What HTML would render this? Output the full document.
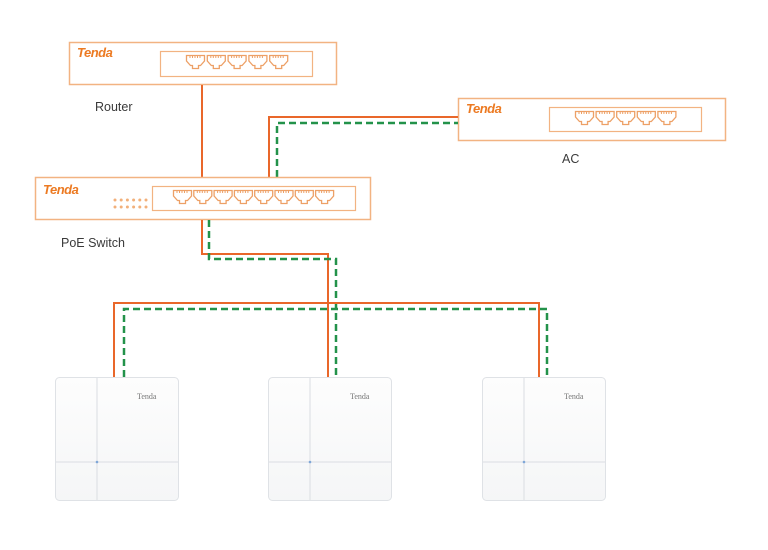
<!DOCTYPE html>
<html>
<head>
<meta charset="utf-8">
<style>
html,body{margin:0;padding:0;background:#fff;}
svg{display:block;}
.lbl{font-family:"Liberation Sans",sans-serif;font-size:12.5px;fill:#3a3a3a;}
.logo{font-family:"Liberation Sans",sans-serif;font-weight:bold;font-style:italic;font-size:13px;fill:#ec7a22;letter-spacing:-0.5px;}
.aplogo{font-family:"Liberation Serif",serif;font-size:8px;fill:#777;}
</style>
</head>
<body>
<svg width="768" height="550" viewBox="0 0 768 550" xmlns="http://www.w3.org/2000/svg">
<defs>
  <g id="port">
    <path d="M0.5,0.5 H18.5 V6 L14.5,10.5 H12.5 V13.5 H6.5 V10.5 H4.5 L0.5,6 Z" fill="none" stroke="#eda066" stroke-width="1.3"/>
    <path d="M4,1 V3 M6.5,1 V3 M9,1 V3 M11.5,1 V3 M14,1 V3" stroke="#eda066" stroke-width="1"/>
  </g>
  <linearGradient id="apg" x1="0" y1="0" x2="0" y2="1">
    <stop offset="0" stop-color="#fdfdfd"/>
    <stop offset="1" stop-color="#f5f6f7"/>
  </linearGradient>
  <g id="ap">
    <rect x="0.5" y="0.5" width="123" height="123" rx="4" fill="url(#apg)" stroke="#dfe2e6" stroke-width="1"/>
    <line x1="42" y1="1" x2="42" y2="123" stroke="#dadde2" stroke-width="1"/>
    <line x1="1" y1="85" x2="123" y2="85" stroke="#dadde2" stroke-width="1"/>
    <circle cx="42" cy="85" r="1.3" fill="#7fa7d8"/>
    <text x="82" y="22" class="aplogo">Tenda</text>
  </g>
</defs>

<!-- Router -->
<rect x="69.5" y="42.5" width="267" height="42" fill="#fff" stroke="#f2b382" stroke-width="1.5"/>
<text x="77" y="57" class="logo">Tenda</text>
<rect x="160.5" y="51.5" width="152" height="25" fill="none" stroke="#f2b382" stroke-width="1.2"/>
<use href="#port" x="186" y="55"/>
<use href="#port" x="206.8" y="55"/>
<use href="#port" x="227.6" y="55"/>
<use href="#port" x="248.4" y="55"/>
<use href="#port" x="269.2" y="55"/>
<text x="95" y="111" class="lbl">Router</text>

<!-- AC -->
<rect x="458.5" y="98.5" width="267" height="42" fill="#fff" stroke="#f2b382" stroke-width="1.5"/>
<text x="466" y="113" class="logo">Tenda</text>
<rect x="549.5" y="107.5" width="152" height="24" fill="none" stroke="#f2b382" stroke-width="1.2"/>
<use href="#port" x="575" y="111"/>
<use href="#port" x="595.6" y="111"/>
<use href="#port" x="616.2" y="111"/>
<use href="#port" x="636.8" y="111"/>
<use href="#port" x="657.4" y="111"/>
<text x="562" y="163" class="lbl">AC</text>

<!-- Connections router/AC to switch -->
<line x1="202" y1="85" x2="202" y2="177" stroke="#e9672a" stroke-width="2"/>
<polyline points="269,177 269,117 458,117" fill="none" stroke="#e9672a" stroke-width="2"/>
<polyline points="277,177 277,123 458,123" fill="none" stroke="#23924a" stroke-width="2.5" stroke-dasharray="7,4"/>

<!-- PoE Switch -->
<rect x="35.5" y="177.5" width="335" height="42" fill="#fff" stroke="#f2b382" stroke-width="1.5"/>
<text x="43" y="194" class="logo">Tenda</text>
<g fill="#f2b07a">
  <circle cx="115" cy="200" r="1.5"/><circle cx="121.2" cy="200" r="1.5"/><circle cx="127.4" cy="200" r="1.5"/><circle cx="133.6" cy="200" r="1.5"/><circle cx="139.8" cy="200" r="1.5"/><circle cx="146" cy="200" r="1.5"/>
  <circle cx="115" cy="207" r="1.5"/><circle cx="121.2" cy="207" r="1.5"/><circle cx="127.4" cy="207" r="1.5"/><circle cx="133.6" cy="207" r="1.5"/><circle cx="139.8" cy="207" r="1.5"/><circle cx="146" cy="207" r="1.5"/>
</g>
<rect x="152.5" y="186.5" width="203" height="24" fill="none" stroke="#f2b382" stroke-width="1.2"/>
<use href="#port" x="173" y="190"/>
<use href="#port" x="193.3" y="190"/>
<use href="#port" x="213.6" y="190"/>
<use href="#port" x="233.9" y="190"/>
<use href="#port" x="254.2" y="190"/>
<use href="#port" x="274.5" y="190"/>
<use href="#port" x="294.8" y="190"/>
<use href="#port" x="315.1" y="190"/>
<text x="61" y="247" class="lbl">PoE Switch</text>

<!-- Connections switch to APs -->
<polyline points="202,220 202,254 328,254 328,377" fill="none" stroke="#e9672a" stroke-width="2"/>
<polyline points="209,220 209,259 336,259 336,377" fill="none" stroke="#23924a" stroke-width="2.5" stroke-dasharray="7,4"/>
<polyline points="114,377 114,303 539,303 539,377" fill="none" stroke="#e9672a" stroke-width="2"/>
<polyline points="124,377 124,309 547,309 547,377" fill="none" stroke="#23924a" stroke-width="2.5" stroke-dasharray="7,4"/>

<!-- APs -->
<use href="#ap" x="55" y="377"/>
<use href="#ap" x="268" y="377"/>
<use href="#ap" x="482" y="377"/>
</svg>
</body>
</html>
